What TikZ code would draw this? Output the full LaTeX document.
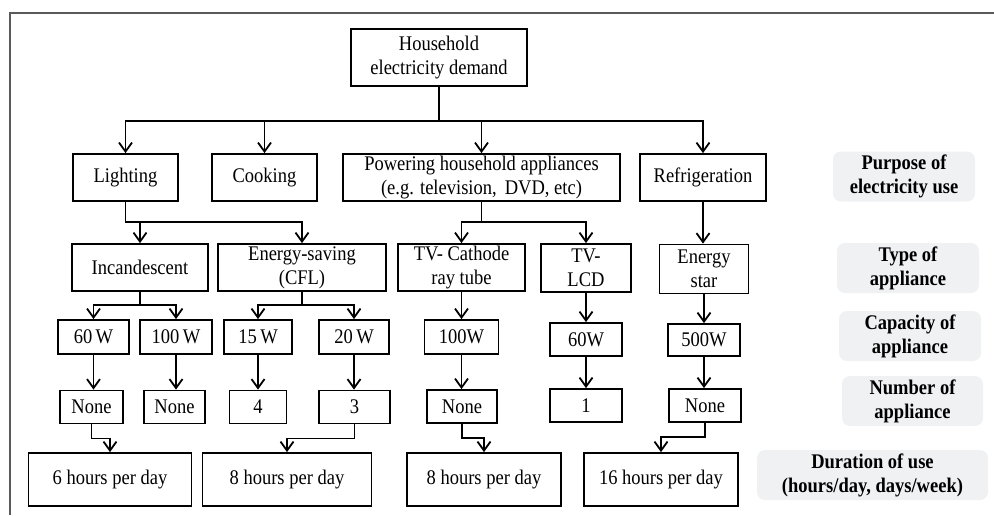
\documentclass[tikz,border=0pt]{standalone}
\usepackage{fontspec}
\setmainfont{Liberation Serif}[FakeStretch=0.89]
\usetikzlibrary{arrows.meta}
\definecolor{LevelGray}{HTML}{F0F1F3}
\definecolor{FrameGray}{HTML}{5A5A5A}
\newcommand{\BoxFont}{\fontsize{20.8}{24}\selectfont}
\tikzset{Box/.style={
		inner sep=0pt,
		draw=black,
		line width=1.8pt,
		align=center,
		font=\BoxFont,
	},
	Level/.style={
		inner sep=0pt,
		fill=LevelGray,
		rounded corners=8pt,
		align=center,
		font=\BoxFont\bfseries,
	},
	Arrow/.style={
		line width=1.8pt,
		-{Straight Barb[length=9pt,width=13pt,line width=1.8pt]},
	}
}

\begin{document}
\begin{tikzpicture}[x=1pt,y=-1pt]
		\useasboundingbox (0,0) rectangle (994,515);
		\draw[FrameGray, line width=1.6pt] (10,515) -- (10,13) -- (994,13);
		% top and purposes
		\node [Box, minimum width=176pt, minimum height=57pt] (demand) at (439,57.5) {Household\\electricity demand};
		\node [Box, minimum width=105pt, minimum height=47pt] (light) at (125.5,177.5) {Lighting};
		\node [Box, minimum width=105pt, minimum height=47pt] (cook) at (264.5,177.5) {Cooking};
		\node [Box, minimum width=277pt, minimum height=47pt] (power) at (481.5,177.5) {Powering household appliances\\(e.g. television,\, DVD, etc)};
		\node [Box, minimum width=126pt, minimum height=47pt] (fridge) at (703,177.5) {Refrigeration};
		% types
		\node [Box, minimum width=136pt, minimum height=47pt] (incand) at (140,267.5) {Incandescent};
		\node [Box, minimum width=168pt, minimum height=47pt] (cfl) at (302,267.5) {Energy-saving\\(CFL)};
		\node [Box, minimum width=127pt, minimum height=47pt] (crt) at (461.5,267.5) {TV- Cathode\\ray tube};
		\node [Box, minimum width=90pt, minimum height=48pt] (lcd) at (586,268) {TV-\\LCD};
		\node [Box, minimum width=89pt, minimum height=49pt] (estar) at (704,269) {Energy\\star};
		% capacities
		\node [Box, minimum width=71pt, minimum height=34pt] (w60) at (93.5,337) {60\,W};
		\node [Box, minimum width=72pt, minimum height=34pt] (w100) at (176,337) {100\,W};
		\node [Box, minimum width=68pt, minimum height=34pt] (w15) at (258,337) {15\,W};
		\node [Box, minimum width=70pt, minimum height=34pt] (w20) at (354,337) {20\,W};
		\node [Box, minimum width=74pt, minimum height=34pt] (crtw) at (461.5,337) {100W};
		\node [Box, minimum width=72pt, minimum height=33pt] (lcdw) at (586,339.5) {60W};
		\node [Box, minimum width=72pt, minimum height=32pt] (starw) at (704,340) {500W};
		% numbers
		\node [Box, minimum width=63pt, minimum height=33pt] (n60) at (91.5,407) {None};
		\node [Box, minimum width=61pt, minimum height=33pt] (n100) at (174.5,407) {None};
		\node [Box, minimum width=57pt, minimum height=33pt] (n15) at (258,407) {4};
		\node [Box, minimum width=71pt, minimum height=33pt] (n20) at (354.5,407) {3};
		\node [Box, minimum width=70pt, minimum height=33pt] (ncrt) at (462,406.5) {None};
		\node [Box, minimum width=72pt, minimum height=33pt] (nlcd) at (586,405.5) {1};
		\node [Box, minimum width=72pt, minimum height=33pt] (nstar) at (705,405.5) {None};
		% durations
		\node [Box, minimum width=163pt, minimum height=53pt] (h6) at (110,479.5) {6 hours per day};
		\node [Box, minimum width=169pt, minimum height=53pt] (h8a) at (287,479.5) {8 hours per day};
		\node [Box, minimum width=154pt, minimum height=53pt] (h8b) at (484,479.5) {8 hours per day};
		\node [Box, minimum width=154pt, minimum height=53pt] (h16) at (661,479.5) {16 hours per day};
		% level labels on the right
		\foreach \x/\y/\w/\Text [count=\i] in {904/176.5/142/{Purpose of\\electricity use},
			908/268/142/{Type of\\appliance}, 910/336/142/{Capacity of\\appliance},
			912.5/401/141/{Number of\\appliance}, 872.5/475/231/{Duration of use\\(hours/day, days/week)}}{%
			\node [Level, minimum width=\w pt, minimum height=50pt] (level\i) at (\x,\y) {\Text};
		}
		% connectors
		\foreach \target in {light, cook, power, fridge}{%
			\draw [Arrow] (demand.south) -- ++(0,34) -| (\target.north);
		}
		\foreach \target in {incand, cfl}{%
			\draw [Arrow] (light.south) -- ++(0,20) -| (\target.north);
		}
		\foreach \target in {crt, lcd}{%
			\draw [Arrow] (power.south) -- ++(0,20) -| (\target.north);
		}
		\draw [Arrow] (fridge.south) -- (fridge.south |- estar.north);
		\foreach \target in {w60, w100}{%
			\draw [Arrow] (incand.south) -- ++(0,13) -| (\target.north);
		}
		\foreach \target in {w15, w20}{%
			\draw [Arrow] (cfl.south) -- ++(0,13) -| (\target.north);
		}
		\draw [Arrow] (crt.south) -- (crtw.north);
		\draw [Arrow] (lcd.south) -- (lcdw.north);
		\draw [Arrow] (estar.south) -- (starw.north);
		\foreach \from/\to in {w60/n60, w100/n100, w15/n15, w20/n20, crtw/ncrt, lcdw/nlcd, starw/nstar}{%
			\draw [Arrow] (\from.south) -- (\from.south |- \to.north);
		}
		\foreach \from/\to in {n60/h6, n20/h8a, ncrt/h8b, nstar/h16}{%
			\draw [Arrow] (\from.south) -- ++(0,14) -| (\to.north);
		}
	\end{tikzpicture}
\end{document}
